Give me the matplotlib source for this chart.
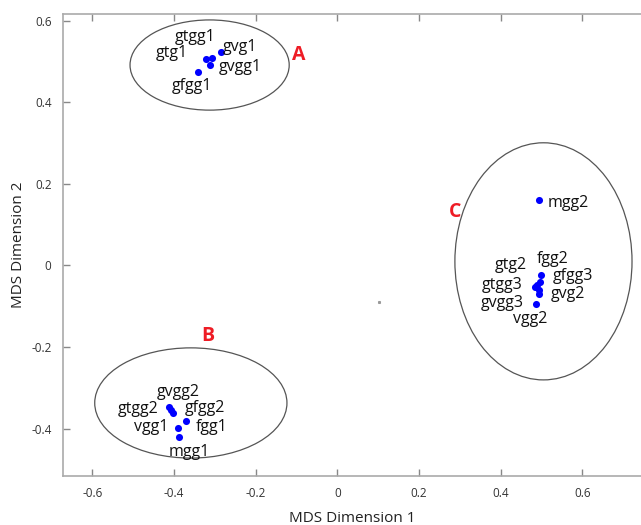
import numpy as np
import matplotlib.pyplot as plt
from matplotlib.patches import Ellipse

plt.rcParams['font.family'] = ['Open Sans', 'DejaVu Sans']

# MDS coordinates
names = ['gvg1', 'gtgg1', 'gtg1', 'gvgg1', 'gfgg1',
         'gvgg2', 'gtgg2', 'gfgg2', 'fgg1', 'vgg1', 'mgg1',
         'mgg2', 'fgg2', 'gtg2', 'gfgg3', 'gtgg3', 'gvgg3', 'gvg2', 'vgg2']
dim1 = [-0.285, -0.307, -0.322, -0.312, -0.341,
        -0.413, -0.408, -0.403, -0.371, -0.390, -0.388,
        0.494, 0.499, 0.489, 0.497, 0.485, 0.494, 0.494, 0.487]
dim2 = [0.523, 0.509, 0.506, 0.491, 0.474,
        -0.347, -0.354, -0.362, -0.382, -0.399, -0.421,
        0.161, -0.023, -0.048, -0.040, -0.053, -0.060, -0.070, -0.094]

# label offsets in pixels (dx, dy)
offsets = [(19, 5), (-17, 21), (-34, 6), (30, -2), (-6, -14),
           (9, 15), (-33, 1), (32, 5), (26, -6), (-27, 1), (10, -15),
           (29, -3), (12, 16), (-26, 20), (33, 6), (-33, 2), (-37, -13), (29, 0), (-6, -15)]

# cluster ellipses: center x, center y, width, height
groups = ['A', 'B', 'C']
ell_cx = [-0.313, -0.359, 0.505]
ell_cy = [0.491, -0.337, 0.010]
ell_w = [0.390, 0.471, 0.434]
ell_h = [0.221, 0.270, 0.581]
letter_x = [-0.094, -0.317, 0.288]
letter_y = [0.515, -0.172, 0.131]

fig = plt.figure(figsize=(6.41, 5.25), dpi=100)
ax = fig.add_axes([0.0978, 0.0933, 0.9022, 0.88])

for cx, cy, w, h in zip(ell_cx, ell_cy, ell_w, ell_h):
    ax.add_patch(Ellipse((cx, cy), w, h, fill=False, ec='#555555', lw=0.9))

ax.scatter(dim1, dim2, s=26, c='#0000ff', zorder=3, linewidths=0)
# stray speck in the middle of the original
ax.plot([0.102], [-0.089], marker='s', ms=1.2, color='#999999', ls='none')

for n, x, y, (dx, dy) in zip(names, dim1, dim2, offsets):
    ax.annotate(n, (x, y), xytext=(dx, dy), textcoords='offset pixels',
                ha='center', va='center', fontsize=11.5, color='#111111')

for g, x, y in zip(groups, letter_x, letter_y):
    ax.text(x, y, g, color='#ee1c25', fontsize=14, fontweight='bold',
            ha='center', va='center')

ax.set_xlim(-0.673, 0.744)
ax.set_ylim(-0.516, 0.616)
ax.set_xticks([-0.6, -0.4, -0.2, 0, 0.2, 0.4, 0.6])
ax.set_xticklabels(['-0.6', '-0.4', '-0.2', '0', '0.2', '0.4', '0.6'])
ax.set_yticks([-0.4, -0.2, 0, 0.2, 0.4, 0.6])
ax.set_yticklabels(['-0.4', '-0.2', '0', '0.2', '0.4', '0.6'])
ax.tick_params(direction='in', length=5, width=1, color='#888888',
               labelsize=8.5, labelcolor='#333333', top=True, pad=8)
for side in ['left', 'bottom', 'top']:
    ax.spines[side].set_color('#aaaaaa')
    ax.spines[side].set_linewidth(1.2)
ax.spines['right'].set_visible(False)

ax.set_xlabel('MDS Dimension 1', fontsize=11, color='#222222', labelpad=8)
ax.set_ylabel('MDS Dimension 2', fontsize=11, color='#222222', labelpad=4)

fig.savefig('out.png', dpi=100)
